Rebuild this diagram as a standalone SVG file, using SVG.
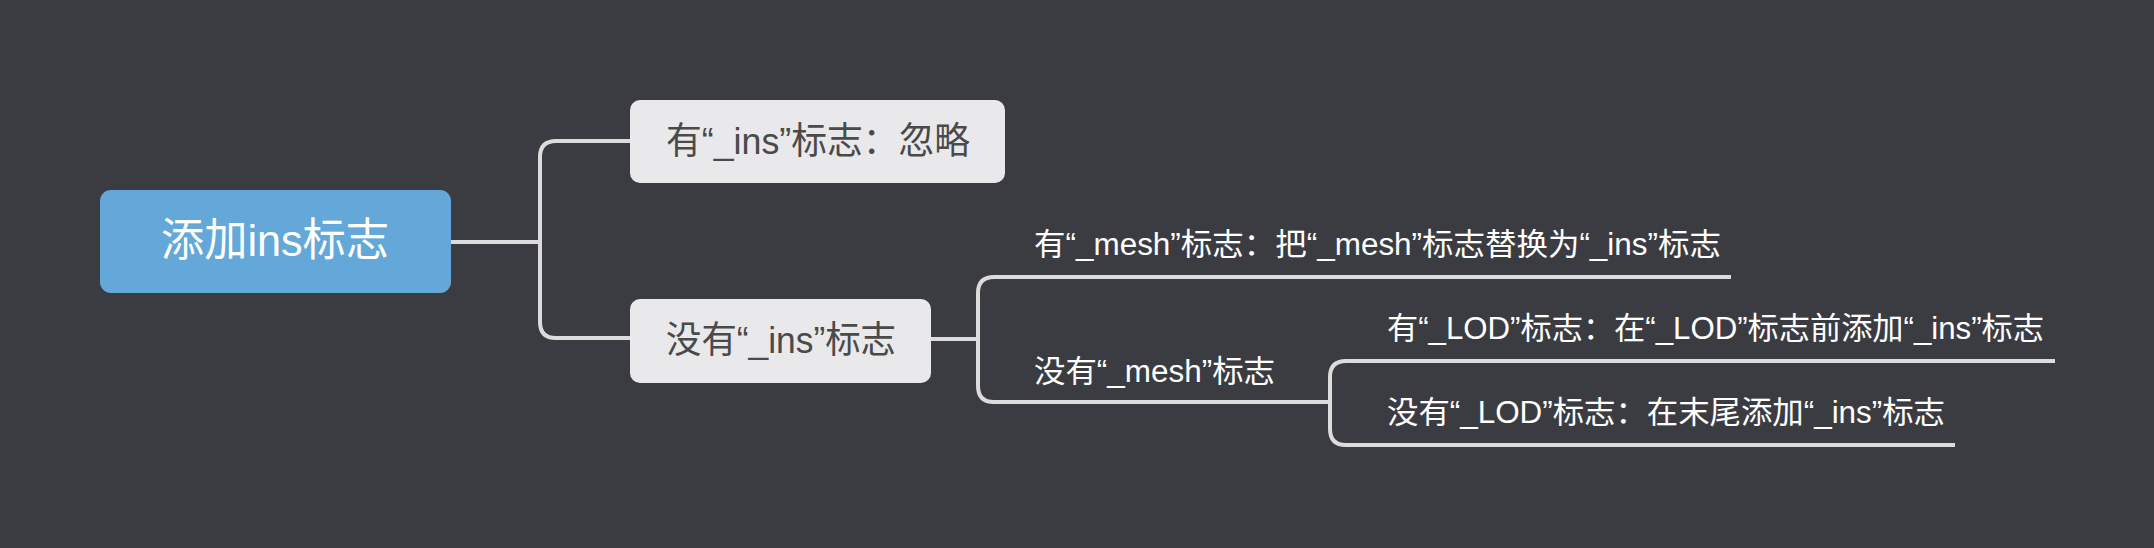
<svg xmlns="http://www.w3.org/2000/svg" width="2154" height="548" viewBox="0 0 2154 548">
<style>
.t{font-family:"Liberation Sans","Noto Sans CJK SC",sans-serif;dominant-baseline:central}
.root{fill:#64a8d9}
.node{fill:#e9e9eb}
.dark{fill:#4a4a4a;font-size:37px}
.light{fill:#ffffff;font-size:31px}
.conn{fill:none;stroke:#dcdcdc;stroke-width:4;stroke-linecap:butt}
</style>
<rect width="2154" height="548" fill="#3b3c42"/>
<g id="connectors">
<path class="conn" d="M450,242 H540"/>
<path class="conn" d="M630,141 H556 Q540,141 540,157 V322 Q540,338 556,338 H630"/>
<path class="conn" d="M931,339 H978"/>
<path class="conn" d="M1731,277 H994 Q978,277 978,293 V386 Q978,402 994,402 H1330"/>
<path class="conn" d="M2055,361 H1346 Q1330,361 1330,377 V429 Q1330,445 1346,445 H1955"/>
</g>
<g id="root">
<rect class="root" x="100" y="190" width="351" height="103" rx="11"/>
<text class="t" x="161" y="240" fill="#ffffff" font-size="45" textLength="228" lengthAdjust="spacingAndGlyphs">添加ins标志</text>
</g>
<g id="n1">
<rect class="node" x="630" y="100" width="375" height="83" rx="10"/>
<text class="t dark" x="666" y="141" textLength="304" lengthAdjust="spacingAndGlyphs">有“_ins”标志：忽略</text>
</g>
<g id="n2">
<rect class="node" x="630" y="299" width="301" height="84" rx="10"/>
<text class="t dark" x="666" y="340" textLength="230" lengthAdjust="spacingAndGlyphs">没有“_ins”标志</text>
</g>
<g id="n3">
<text class="t light" x="1034" y="244" textLength="687" lengthAdjust="spacingAndGlyphs">有“_mesh”标志：把“_mesh”标志替换为“_ins”标志</text>
</g>
<g id="n4">
<text class="t light" x="1034" y="371" textLength="241" lengthAdjust="spacingAndGlyphs">没有“_mesh”标志</text>
</g>
<g id="n5">
<text class="t light" x="1387" y="328" textLength="657" lengthAdjust="spacingAndGlyphs">有“_LOD”标志：在“_LOD”标志前添加“_ins”标志</text>
</g>
<g id="n6">
<text class="t light" x="1387" y="412" textLength="558" lengthAdjust="spacingAndGlyphs">没有“_LOD”标志：在末尾添加“_ins”标志</text>
</g>
</svg>
